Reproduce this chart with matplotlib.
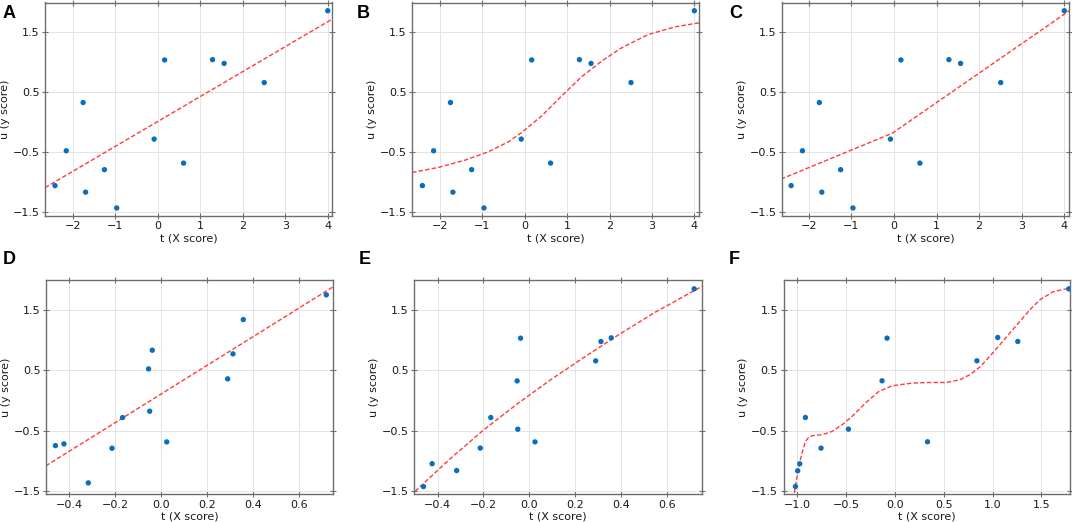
import matplotlib
matplotlib.use("Agg")
import matplotlib.pyplot as plt

# ---------------- data ----------------
panel_letters = ["A", "B", "C", "D", "E", "F"]

# scores shared by panels A, B, C
t_abc = [-2.415, -2.15, -1.753, -1.695, -1.253, -0.963, -0.083, 0.163, 0.609, 1.29, 1.563, 2.506, 4.0]
u_abc = [-1.056, -0.477, 0.325, -1.165, -0.791, -1.428, -0.283, 1.033, -0.682, 1.038, 0.975, 0.657, 1.851]

t_d = [-0.459, -0.422, -0.316, -0.213, -0.167, -0.054, -0.049, -0.038, 0.025, 0.29, 0.313, 0.358, 0.719]
u_d = [-0.747, -0.719, -1.364, -0.791, -0.283, 0.522, -0.178, 0.831, -0.686, 0.357, 0.77, 1.338, 1.747]

t_e = [-0.462, -0.424, -0.317, -0.214, -0.168, -0.053, -0.050, -0.038, 0.025, 0.29, 0.313, 0.358, 0.72]
u_e = [-1.425, -1.047, -1.16, -0.788, -0.283, 0.324, -0.476, 1.03, -0.686, 0.655, 0.975, 1.036, 1.847]

t_f = [-1.016, -0.993, -0.972, -0.914, -0.754, -0.474, -0.130, -0.079, 0.335, 0.84, 1.053, 1.258, 1.78]
u_f = [-1.424, -1.164, -1.048, -0.282, -0.789, -0.475, 0.325, 1.031, -0.684, 0.656, 1.042, 0.976, 1.847]

# fitted inner-relation curves
fit_a_t = [-2.65, 4.10]
fit_a_u = [-1.09, 1.71]

fit_b_t = [-2.66, -2.04, -1.41, -0.86, -0.388, -0.073, 0.398, 0.87, 1.342, 1.814, 2.286, 2.915, 3.544, 4.11]
fit_b_u = [-0.837, -0.754, -0.633, -0.494, -0.329, -0.174, 0.102, 0.434, 0.754, 1.014, 1.235, 1.456, 1.583, 1.649]

fit_c_t = [-2.656, -0.04, 4.156]
fit_c_u = [-0.948, -0.185, 1.87]

fit_d_t = [-0.501, 0.748]
fit_d_u = [-1.083, 1.879]

fit_e_t = [-0.52, -0.35, -0.2, -0.05, 0.1, 0.25, 0.4, 0.55, 0.76]
fit_e_u = [-1.58, -0.98, -0.49, -0.05, 0.36, 0.74, 1.11, 1.46, 1.90]

fit_f_t = [-1.04, -1.027, -0.983, -0.949, -0.914, -0.88, -0.846, -0.795, -0.744, -0.642, -0.539,
           -0.437, -0.30, -0.164, -0.028, 0.177, 0.348, 0.528, 0.664, 0.766, 0.869, 0.971,
           1.074, 1.176, 1.279, 1.381, 1.484, 1.62, 1.757, 1.80]
fit_f_u = [-1.75, -1.533, -1.093, -0.872, -0.679, -0.61, -0.585, -0.575, -0.568, -0.513, -0.403,
           -0.265, -0.044, 0.148, 0.242, 0.287, 0.297, 0.297, 0.342, 0.424, 0.551, 0.728,
           0.921, 1.114, 1.307, 1.50, 1.665, 1.80, 1.847, 1.85]

xticks_abc = [-2, -1, 0, 1, 2, 3, 4]
xticks_de = [-0.4, -0.2, 0.0, 0.2, 0.4, 0.6]
xticks_f = [-1.0, -0.5, 0.0, 0.5, 1.0, 1.5]
yticks = [-1.5, -0.5, 0.5, 1.5]

xlabel_text = "t (X score)"
ylabel_text = "u (y score)"

# ---------------- layout ----------------
W, H = 1072, 522
fig = plt.figure(figsize=(W / 100, H / 100), dpi=100)

# axes boxes in pixels: left, top, right, bottom
boxes = [
    (45, 2.5, 332, 215.5),
    (412, 2.5, 699, 215.5),
    (782, 2.5, 1069, 215.5),
    (46, 280.3, 333, 494.3),
    (414.3, 280.3, 701.7, 494.3),
    (783.7, 280.3, 1070.3, 494.3),
]

panels = [
    (t_abc, u_abc, fit_a_t, fit_a_u, xticks_abc, (-2.65, 4.10)),
    (t_abc, u_abc, fit_b_t, fit_b_u, xticks_abc, (-2.66, 4.11)),
    (t_abc, u_abc, fit_c_t, fit_c_u, xticks_abc, (-2.63, 4.11)),
    (t_d, u_d, fit_d_t, fit_d_u, xticks_de, (-0.50, 0.748)),
    (t_e, u_e, fit_e_t, fit_e_u, xticks_de, (-0.502, 0.753)),
    (t_f, u_f, fit_f_t, fit_f_u, xticks_f, (-1.136, 1.795)),
]

letter_tops = [5, 5, 5, 251, 251, 251]
letter_lefts = [2.5, 357, 729, 2.5, 359, 729]

spine_col = "#6e6e6e"
for i, (box, pan) in enumerate(zip(boxes, panels)):
    l, t, r, b = box
    ax = fig.add_axes([l / W, 1 - b / H, (r - l) / W, (b - t) / H])
    tt, uu, ft, fu, xt, xl = pan
    ax.grid(True, color="#e4e4e4", linewidth=0.7, zorder=0)
    ax.set_axisbelow(True)
    ax.plot(ft, fu, linestyle=(0, (3.2, 1.6)), color="#ff3b3b", linewidth=1.0, zorder=2)
    ax.scatter(tt, uu, s=15, color="#0a6ebd", edgecolors="none", zorder=3)
    ax.set_xlim(*xl)
    ax.set_ylim(-1.553, 1.988)
    ax.set_xticks(xt)
    ax.set_yticks(yticks)
    ax.tick_params(direction="inout", length=4, width=0.8, color=spine_col,
                   top=True, right=True, labelsize=8, pad=2, labelcolor="#1a1a1a")
    for s in ax.spines.values():
        s.set_color(spine_col)
        s.set_linewidth(1.0)
    ax.set_xlabel(xlabel_text, fontsize=8, labelpad=1.5, color="#1a1a1a")
    ax.set_ylabel(ylabel_text, fontsize=8, labelpad=2, color="#1a1a1a")
    fig.text(letter_lefts[i] / W, 1 - letter_tops[i] / H, panel_letters[i],
             fontsize=13, fontweight="bold", family="Liberation Sans",
             ha="left", va="top")

fig.savefig("out.png", dpi=100)
